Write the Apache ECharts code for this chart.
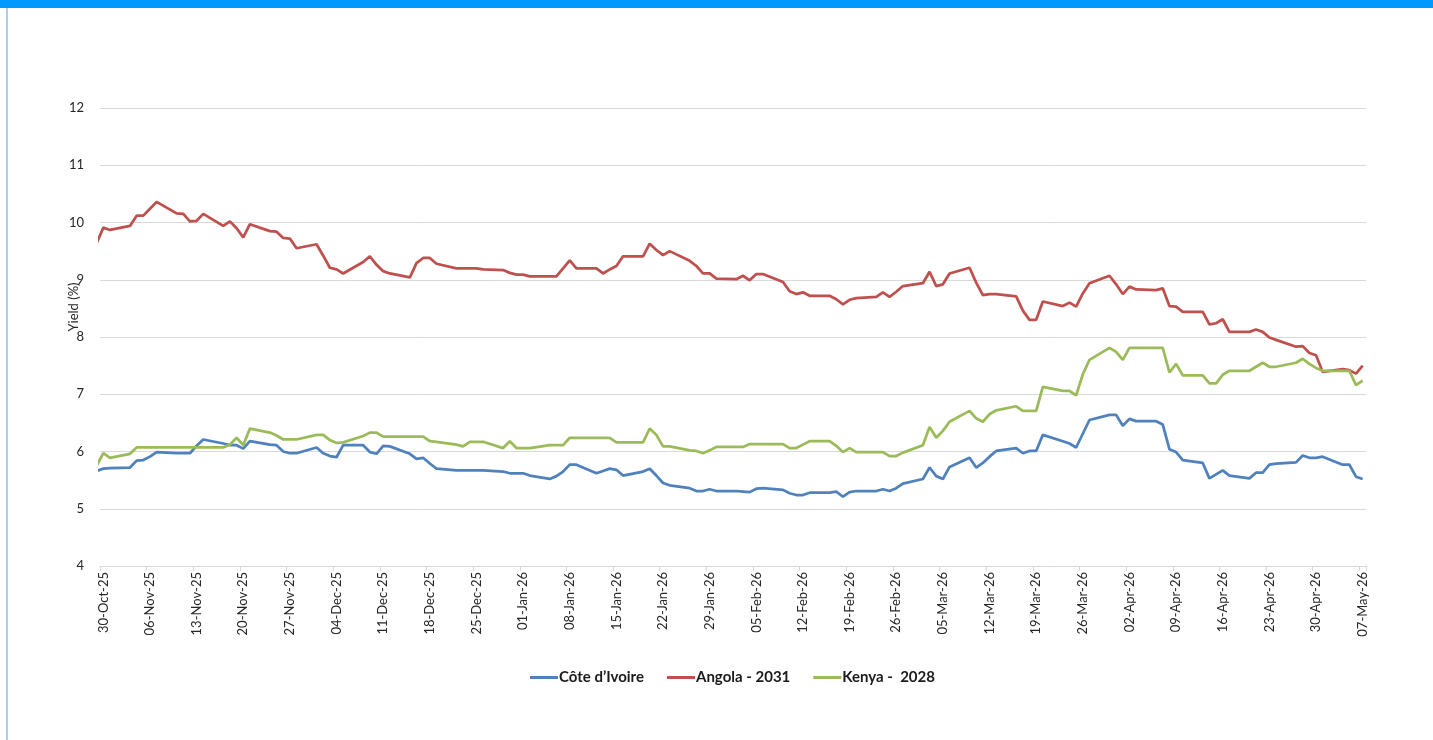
<!DOCTYPE html>
<html>
<head>
<meta charset="utf-8">
<script src="https://cdn.jsdelivr.net/npm/echarts@6/dist/echarts.min.js"></script>
<style>
html,body{margin:0;padding:0;background:#ffffff;}
#chart{width:1433px;height:740px;}
</style>
</head>
<body>
<div id="chart"></div>
<script>
// ---------- DATA ----------
const seriesNames = ['Côte d’Ivoire', 'Angola - 2031', 'Kenya -  2028'];

// Values for each trading day (weekdays) from 29-Oct-25 to 07-May-26
const coteDIvoire = [
  5.66, 5.70, 5.71,
  5.72, 5.84, 5.85, 5.91, 5.99,
  5.97, 5.97, 5.97, 6.10, 6.21,
  6.14, 6.11, 6.11, 6.05, 6.18,
  6.12, 6.11, 6.00, 5.97, 5.97,
  6.07, 5.97, 5.92, 5.90, 6.11,
  6.11, 5.99, 5.96, 6.10, 6.09,
  5.96, 5.87, 5.89, 5.79, 5.70,
  5.67, 5.67, 5.67, 5.67, 5.67,
  5.65, 5.62, 5.62, 5.62, 5.58,
  5.52, 5.57, 5.65, 5.77, 5.77,
  5.62, 5.66, 5.70, 5.68, 5.58,
  5.65, 5.70, 5.58, 5.45, 5.41,
  5.36, 5.31, 5.31, 5.34, 5.31,
  5.31, 5.30, 5.29, 5.35, 5.36,
  5.33, 5.27, 5.24, 5.24, 5.28,
  5.28, 5.30, 5.21, 5.29, 5.31,
  5.31, 5.34, 5.31, 5.36, 5.44,
  5.52, 5.72, 5.57, 5.52, 5.73,
  5.89, 5.72, 5.80, 5.91, 6.01,
  6.06, 5.97, 6.01, 6.01, 6.29,
  6.18, 6.14, 6.07, 6.31, 6.55,
  6.64, 6.64, 6.45, 6.57, 6.53,
  6.53, 6.47, 6.04, 5.99, 5.85,
  5.80, 5.53, 5.60, 5.67, 5.58,
  5.53, 5.63, 5.63, 5.77, 5.79,
  5.81, 5.93, 5.89, 5.89, 5.91,
  5.77, 5.77, 5.56, 5.52
];

const angola2031 = [
  9.64, 9.91, 9.87,
  9.94, 10.12, 10.12, 10.24, 10.36,
  10.16, 10.15, 10.02, 10.03, 10.15,
  9.94, 10.02, 9.90, 9.74, 9.97,
  9.85, 9.84, 9.73, 9.72, 9.55,
  9.62, 9.42, 9.21, 9.18, 9.11,
  9.31, 9.41, 9.26, 9.15, 9.11,
  9.04, 9.29, 9.38, 9.38, 9.28,
  9.20, 9.20, 9.20, 9.20, 9.18,
  9.17, 9.12, 9.09, 9.09, 9.06,
  9.06, 9.06, 9.20, 9.34, 9.20,
  9.20, 9.11, 9.18, 9.24, 9.41,
  9.41, 9.63, 9.52, 9.43, 9.50,
  9.33, 9.24, 9.11, 9.11, 9.02,
  9.01, 9.07, 8.99, 9.10, 9.10,
  8.96, 8.80, 8.75, 8.78, 8.72,
  8.72, 8.66, 8.57, 8.65, 8.68,
  8.70, 8.78, 8.70, 8.79, 8.89,
  8.94, 9.14, 8.89, 8.92, 9.11,
  9.21, 8.95, 8.73, 8.75, 8.75,
  8.71, 8.46, 8.30, 8.30, 8.62,
  8.54, 8.60, 8.53, 8.76, 8.94,
  9.07, 8.92, 8.75, 8.88, 8.83,
  8.82, 8.85, 8.54, 8.53, 8.44,
  8.44, 8.22, 8.24, 8.31, 8.09,
  8.09, 8.13, 8.09, 7.99, 7.95,
  7.83, 7.84, 7.72, 7.68, 7.39,
  7.44, 7.42, 7.36, 7.50
];

const kenya2028 = [
  5.75, 5.97, 5.89,
  5.96, 6.07, 6.07, 6.07, 6.07,
  6.07, 6.07, 6.07, 6.07, 6.07,
  6.07, 6.12, 6.24, 6.11, 6.40,
  6.33, 6.28, 6.21, 6.21, 6.21,
  6.29, 6.29, 6.20, 6.15, 6.16,
  6.27, 6.33, 6.33, 6.26, 6.26,
  6.26, 6.26, 6.26, 6.18, 6.17,
  6.12, 6.09, 6.17, 6.17, 6.17,
  6.06, 6.18, 6.06, 6.06, 6.06,
  6.11, 6.11, 6.11, 6.24, 6.24,
  6.24, 6.24, 6.24, 6.16, 6.16,
  6.16, 6.40, 6.29, 6.09, 6.09,
  6.02, 6.01, 5.97, 6.02, 6.08,
  6.08, 6.08, 6.13, 6.13, 6.13,
  6.13, 6.06, 6.06, 6.12, 6.18,
  6.18, 6.10, 5.99, 6.06, 5.99,
  5.99, 5.99, 5.92, 5.92, 5.98,
  6.11, 6.43, 6.24, 6.36, 6.52,
  6.71, 6.58, 6.52, 6.65, 6.72,
  6.79, 6.71, 6.71, 6.71, 7.13,
  7.06, 7.06, 6.98, 7.35, 7.60,
  7.81, 7.74, 7.60, 7.81, 7.81,
  7.81, 7.81, 7.38, 7.53, 7.33,
  7.33, 7.19, 7.19, 7.34, 7.41,
  7.41, 7.48, 7.55, 7.48, 7.48,
  7.55, 7.62, 7.53, 7.46, 7.41,
  7.41, 7.41, 7.16, 7.24
];

const yTicks = { min: 4, max: 12, step: 1 };
const axisTitle = 'Yield (%)';

// ---------- DATES ----------
const MONTHS = ['Jan','Feb','Mar','Apr','May','Jun','Jul','Aug','Sep','Oct','Nov','Dec'];
const DAY = 86400000;
const axisStart = Date.UTC(2025, 9, 30);   // 30-Oct-25
const axisEnd = Date.UTC(2026, 4, 7);      // 07-May-26
const dataStart = Date.UTC(2025, 9, 29);   // first trading day in the data

function fmt(t) {
  const d = new Date(t);
  return String(d.getUTCDate()).padStart(2, '0') + '-' + MONTHS[d.getUTCMonth()] + '-' + String(d.getUTCFullYear()).slice(2);
}

// calendar-day categories of the date axis
const categories = [];
for (let t = axisStart; t <= axisEnd; t += DAY) categories.push(fmt(t));

// day offsets (from axis start) of each trading day
const tradingDays = [];
for (let t = dataStart; t <= axisEnd; t += DAY) {
  const wd = new Date(t).getUTCDay();
  if (wd !== 0 && wd !== 6) tradingDays.push(Math.round((t - axisStart) / DAY));
}

function toPairs(values) {
  return values.map((v, i) => [tradingDays[i], v]);
}

// ---------- CHART ----------
const FONT = 'Lato, "Noto Sans", sans-serif';
const colors = ['#4F81BD', '#C0504D', '#9BBB59'];
const chart = echarts.init(document.getElementById('chart'), null, { renderer: 'canvas' });

chart.setOption({
  backgroundColor: '#ffffff',
  animation: false,
  color: colors,
  textStyle: { fontFamily: FONT },
  grid: { left: 100, right: 67, top: 108, bottom: 174, containLabel: false },
  legend: {
    left: 525,
    top: 665,
    icon: 'rect',
    itemWidth: 28,
    itemHeight: 3,
    itemGap: 23,
    textStyle: { fontFamily: FONT, fontSize: 15, fontWeight: 'bold', color: '#1a1a1a', padding: [0, 0, 0, -4] },
    data: seriesNames
  },
  xAxis: [
    {
      type: 'category',
      data: categories,
      boundaryGap: true,
      position: 'bottom',
      axisLine: { show: true, lineStyle: { color: '#d9d9d9', width: 1 } },
      axisTick: { show: true, interval: 6, length: 5, lineStyle: { color: '#d9d9d9' } },
      axisLabel: { interval: 6, rotate: 90, margin: 6, fontSize: 13, color: '#262626', fontFamily: FONT },
      splitLine: { show: false }
    },
    {
      type: 'value',
      min: -0.5,
      max: categories.length - 0.5,
      show: false
    }
  ],
  yAxis: {
    type: 'value',
    min: yTicks.min,
    max: yTicks.max,
    interval: yTicks.step,
    axisLine: { show: false },
    axisTick: { show: false },
    axisLabel: { margin: 16, fontSize: 13, color: '#262626', fontFamily: FONT },
    splitLine: { show: true, lineStyle: { color: '#d9d9d9', width: 1 } }
  },
  graphic: [
    { type: 'rect', shape: { x: 0, y: 0, width: 1433, height: 8 }, style: { fill: '#0099ff' }, silent: true },
    { type: 'rect', shape: { x: 6, y: 8, width: 2, height: 732 }, style: { fill: '#a9cff0' }, silent: true },
    {
      type: 'text',
      x: 74, y: 307,
      rotation: Math.PI / 2,
      style: { text: axisTitle, fill: '#262626', fontSize: 13, fontFamily: FONT, align: 'center', verticalAlign: 'middle' },
      silent: true
    }
  ],
  series: [
    { name: seriesNames[0], type: 'line', xAxisIndex: 1, data: toPairs(coteDIvoire), showSymbol: false, clip: true, lineStyle: { width: 2.75, color: colors[0] } },
    { name: seriesNames[1], type: 'line', xAxisIndex: 1, data: toPairs(angola2031), showSymbol: false, clip: true, lineStyle: { width: 2.75, color: colors[1] } },
    { name: seriesNames[2], type: 'line', xAxisIndex: 1, data: toPairs(kenya2028), showSymbol: false, clip: true, lineStyle: { width: 2.75, color: colors[2] } }
  ]
});
</script>
</body>
</html>
